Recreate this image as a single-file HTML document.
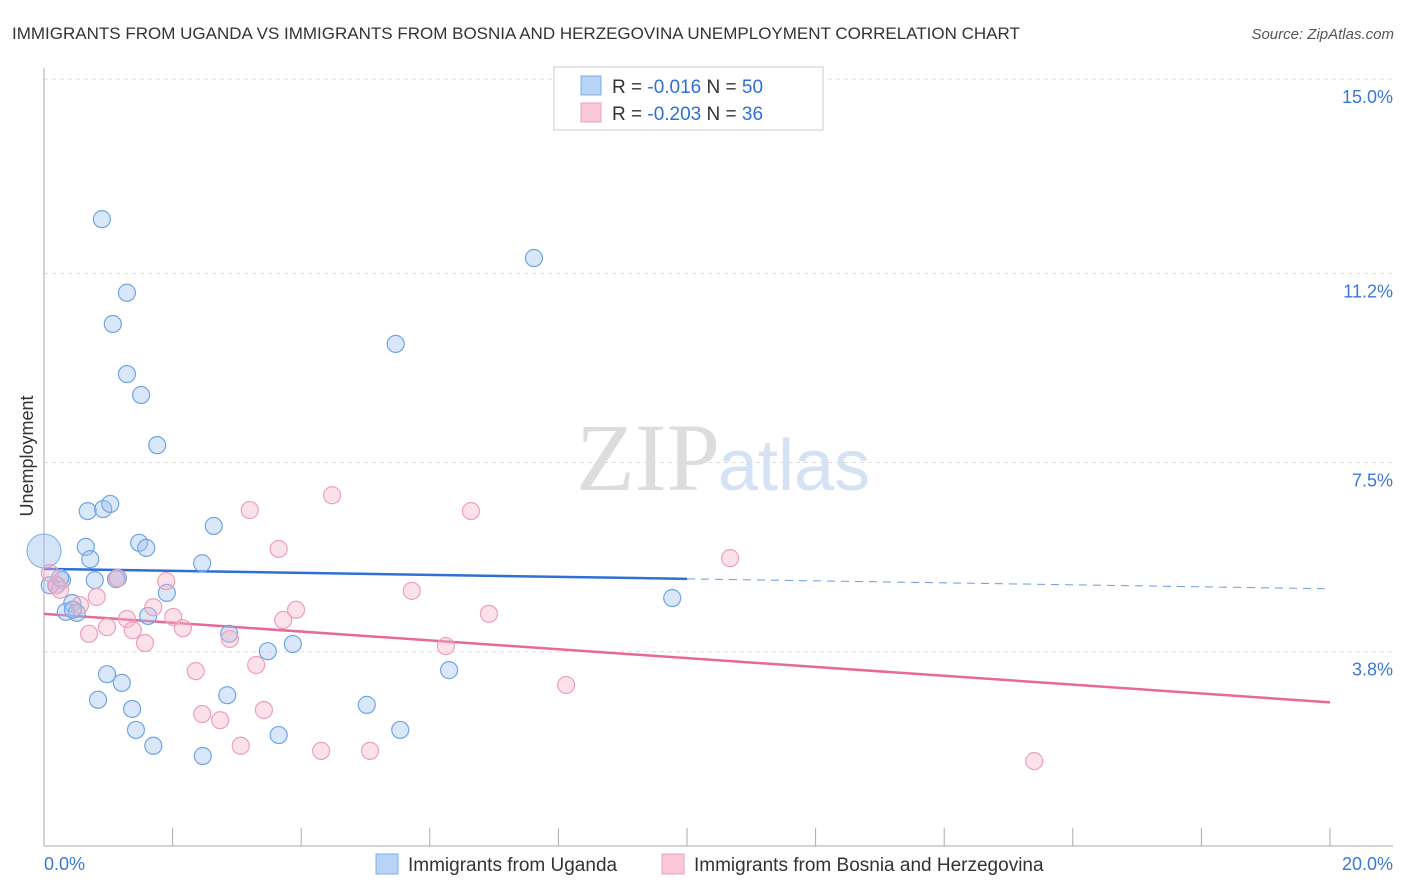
<!DOCTYPE html>
<html><head><meta charset="utf-8"><style>
body{margin:0;background:#fff;font-family:"Liberation Sans",sans-serif;}
svg{display:block}
</style></head><body>
<svg id="chart" width="1406" height="892">
<text x="12" y="39" font-size="17" fill="#333">IMMIGRANTS FROM UGANDA VS IMMIGRANTS FROM BOSNIA AND HERZEGOVINA UNEMPLOYMENT CORRELATION CHART</text>
<text x="1394" y="39" font-size="15" fill="#555" font-style="italic" text-anchor="end">Source: ZipAtlas.com</text>
<text x="720" y="490" font-size="96" fill="#ddd" text-anchor="end" font-family="Liberation Serif,serif">ZIP</text>
<text x="718" y="490" font-size="72" fill="#d4e2f4">atlas</text>
<text transform="translate(33,456) rotate(-90)" font-size="18" fill="#333" text-anchor="middle">Unemployment</text>
<g id="grid"></g><g id="ticks"></g><g id="trends"></g><g id="pts"></g>
<g>
<rect x="554" y="67" width="269" height="63" fill="#fff" stroke="#ccc"/>
<rect x="581" y="76" width="20" height="19" fill="#b8d3f5" stroke="#7aaee8"/>
<rect x="581" y="103" width="20" height="19" fill="#f9c8d6" stroke="#eea0b8"/>
<text x="612" y="93" font-size="19" fill="#333">R = <tspan fill="#2f6fd6">-0.016</tspan>   N = <tspan fill="#2f6fd6">50</tspan></text>
<text x="612" y="120" font-size="19" fill="#333">R = <tspan fill="#2f6fd6">-0.203</tspan>   N = <tspan fill="#2f6fd6"> 36</tspan></text>
</g>
<g>
<rect x="376" y="854" width="22" height="20" fill="#b8d3f5" stroke="#7aaee8"/>
<text x="408" y="871" font-size="19" fill="#333">Immigrants from Uganda</text>
<rect x="662" y="854" width="22" height="20" fill="#f9c8d6" stroke="#eea0b8"/>
<text x="694" y="871" font-size="19" fill="#333">Immigrants from Bosnia and Herzegovina</text>
</g>
<text x="44" y="870" font-size="18" fill="#3a78d8">0.0%</text>
<text x="1393" y="870" font-size="18" fill="#3a78d8" text-anchor="end">20.0%</text>
</svg>
<script>
const yTicks=[15.0,11.2,7.5,3.8];
const yTickLabels=["15.0%","11.2%","7.5%","3.8%"];
const blueX=[0.90,1.29,1.07,1.29,1.51,1.76,7.62,5.47,0.68,0.92,1.03,2.64,0.65,1.48,1.59,0.72,2.46,0.28,0.79,1.15,0.19,1.91,0.44,0.34,0.51,1.62,2.88,3.87,3.48,6.30,0.98,1.21,0.84,2.85,1.37,5.02,1.43,5.54,3.65,1.70,2.47,9.77,0.09,1.12,0.25,0.45];
const blueY=[12.26,10.82,10.21,9.23,8.82,7.84,11.50,9.82,6.55,6.59,6.69,6.26,5.85,5.93,5.83,5.61,5.53,5.20,5.20,5.24,5.10,4.95,4.75,4.58,4.56,4.50,4.15,3.95,3.81,3.44,3.36,3.19,2.86,2.95,2.68,2.76,2.27,2.27,2.17,1.96,1.76,4.85,5.10,5.22,5.24,4.62];
const pinkX=[4.48,3.20,6.64,3.65,10.67,1.90,0.82,1.70,5.72,3.92,6.92,2.01,1.29,3.72,0.98,2.16,1.38,0.70,2.89,1.57,6.25,3.30,2.36,8.12,2.46,3.42,2.74,3.06,4.31,5.07,15.40,0.20,0.09,0.56,0.25,1.14];
const pinkY=[6.86,6.57,6.55,5.81,5.63,5.18,4.87,4.67,4.99,4.62,4.54,4.48,4.44,4.42,4.28,4.26,4.22,4.15,4.05,3.97,3.91,3.54,3.42,3.15,2.58,2.66,2.46,1.96,1.86,1.86,1.66,5.10,5.34,4.71,5.01,5.24];
const blueTrend=[5.42,5.03];
const pinkTrend=[4.54,2.81];
const NS="http://www.w3.org/2000/svg";
const X=v=>44+v*64.3, Y=v=>846-v*51.13;
function mk(t,a,p){const e=document.createElementNS(NS,t);for(const k in a)e.setAttribute(k,a[k]);p.appendChild(e);return e;}
const grid=document.getElementById('grid'),ticks=document.getElementById('ticks');
yTicks.forEach((v,i)=>{
 const l=mk('line',{x1:44,x2:1393,y1:Y(v),y2:Y(v),stroke:'#ddd','stroke-dasharray':'4,4'},grid);
 
 
 const t=mk('text',{x:1393,y:Y(v)+24,'font-size':18,fill:'#3a78d8','text-anchor':'end'},grid);
 t.textContent=yTickLabels[i];
 
 
});
const ax=mk('line',{x1:44,x2:44,y1:68,y2:846,stroke:'#aaa'},ticks);


const bx=mk('line',{x1:44,x2:1393,y1:846,y2:846,stroke:'#aaa'},ticks);


for(let k=0;k<=10;k++){const t=mk('line',{x1:X(k*2),x2:X(k*2),y1:828,y2:846,stroke:'#aaa'},ticks);
 
 }
const tr=document.getElementById('trends');
const by=x=>blueTrend[0]+(blueTrend[1]-blueTrend[0])*x/20;
let l1=mk('line',{x1:X(0),y1:Y(by(0)),x2:X(10),y2:Y(by(10)),stroke:'#2f6fd6','stroke-width':2.5},tr);


let l2=mk('line',{x1:X(10),y1:Y(by(10)),x2:X(20),y2:Y(by(20)),stroke:'#6a9be0','stroke-width':1,'stroke-dasharray':'8,6'},tr);


let l3=mk('line',{x1:X(0),y1:Y(pinkTrend[0]),x2:X(20),y2:Y(pinkTrend[1]),stroke:'#e8689a','stroke-width':2.5},tr);


const pts=document.getElementById('pts');
let big=mk('circle',{cx:X(0),cy:Y(5.77),r:17,fill:'rgba(160,196,240,0.45)',stroke:'#7aaee8'},pts);


blueX.forEach((x,i)=>{const c=mk('circle',{cx:X(x),cy:Y(blueY[i]),r:8.5,fill:'rgba(160,196,240,0.4)',stroke:'#6fa5e6','stroke-width':1.2},pts);
 
 });
pinkX.forEach((x,i)=>{const c=mk('circle',{cx:X(x),cy:Y(pinkY[i]),r:8.5,fill:'rgba(245,180,200,0.4)',stroke:'#eea0b8','stroke-width':1.2},pts);
 
 });
</script>
</body></html>
